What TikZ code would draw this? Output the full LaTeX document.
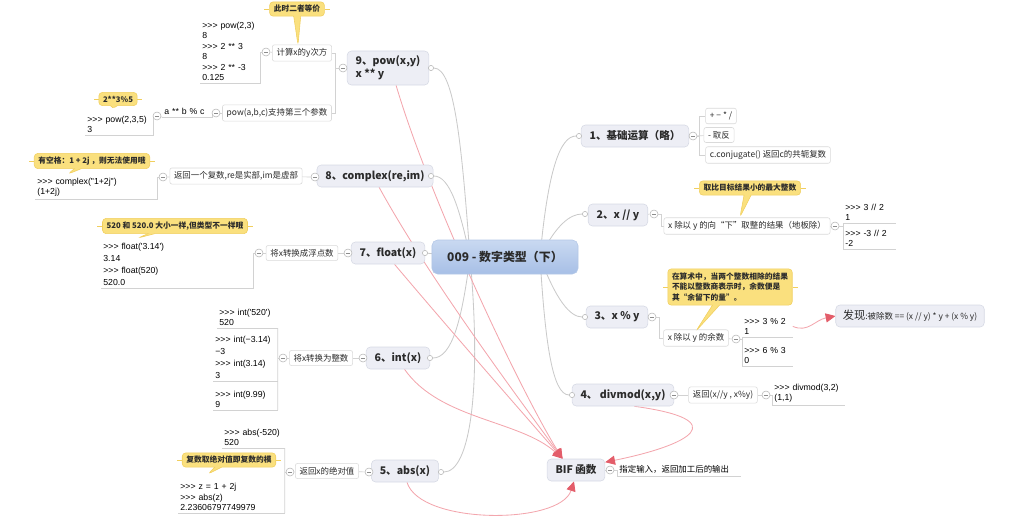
\documentclass[tikz,border=0pt]{standalone}
\usepackage{fontspec}
\setmainfont{Noto Sans CJK SC}[Ligatures=TeXOff]
\newfontfamily\codefont{Liberation Sans}[Ligatures=TeXOff]
\usetikzlibrary{arrows.meta,backgrounds,shapes.callouts}
\definecolor{ink}{HTML}{2B2B2B}
\definecolor{rootlight}{HTML}{C9D9F1}
\definecolor{rootdark}{HTML}{A7BFE6}
\definecolor{rootedge}{HTML}{B3C7E6}
\definecolor{topicfill}{HTML}{EDEEF5}
\definecolor{topicedge}{HTML}{D6D9E4}
\definecolor{subedge}{HTML}{DADADA}
\definecolor{notefill}{HTML}{FAE07E}
\definecolor{noteedge}{HTML}{F1CF5E}
\definecolor{foldedge}{HTML}{B8B8B8}
\definecolor{branchline}{HTML}{CACACA}
\definecolor{linkline}{HTML}{D2D2D2}
\definecolor{relline}{HTML}{F3A6AD}
\definecolor{relhead}{HTML}{E35D6A}

\begin{document}
\begin{tikzpicture}[x=0.025cm, y=-0.025cm,
  root/.style={rounded corners=4pt, top color=rootlight, bottom color=rootdark, draw=rootedge, text=ink,
    font=\fontsize{8.5}{10}\selectfont\bfseries, minimum width=3.65cm, minimum height=0.85cm},
  topic/.style={rounded corners=3pt, fill=topicfill, draw=topicedge, text=ink,
    font=\fontsize{7.5}{9}\selectfont\bfseries, inner xsep=6pt, minimum height=0.55cm},
  sub/.style={rounded corners=1.5pt, fill=white, draw=subedge, text=ink,
    font=\fontsize{6}{7}\selectfont, inner xsep=3pt, inner ysep=2.6pt},
  code/.style={anchor=south west, align=left, text=black, font=\codefont\fontsize{6.2}{7.4}\selectfont,
    inner xsep=1.5pt, inner ysep=1.5pt},
  loose/.style={font=\codefont\fontsize{6.2}{8.6}\selectfont},
  note/.style={rectangle callout, rounded corners=2.5pt, fill=notefill, draw=noteedge, text=ink,
    font=\fontsize{5.5}{7.8}\selectfont\bfseries, inner xsep=3pt, inner ysep=2.4pt, callout pointer width=5pt},
  fold/.style={circle, draw=foldedge, fill=white, inner sep=0pt, minimum size=0.2cm,
    path picture={\draw[black!45] ([xshift=-1.5pt]path picture bounding box.center) -- ([xshift=1.5pt]path picture bounding box.center);}},
  joint/.style={circle, draw=foldedge, fill=white, inner sep=0pt, minimum size=0.13cm},
  branch/.style={draw=branchline, line width=0.6pt},
  link/.style={draw=linkline, line width=0.5pt},
  relation/.style={draw=relline, line width=0.6pt, -{Triangle[length=7pt,width=6.5pt,color=relhead]}}]
  \useasboundingbox (0,0) rectangle (1024,521);

  \node[root] (root) at (505,257) {009 - 数字类型（下）};

  \node[topic] (t1) at (635,136) {1、基础运算（略）};
  \node[topic] (t2) at (618,215) {2、x // y};
  \node[topic] (t3) at (617,317) {3、x \% y};
  \node[topic] (t4) at (623,395) {4、 divmod(x,y)};
  \node[topic] (t5) at (405,471) {5、abs(x)};
  \node[topic] (t6) at (398,358) {6、int(x)};
  \node[topic] (t7) at (388,253) {7、float(x)};
  \node[topic] (t8) at (375,176) {8、complex(re,im)};
  \node[topic, align=left, minimum width=2cm, minimum height=0.85cm] (t9) at (388,68) {9、pow(x,y)\\x ** y};
  \node[topic] (bif) at (576,470) {BIF 函数};
  \node[topic, font=\fontsize{6}{8}\selectfont, inner xsep=5pt] (found) at (910,316)
    {{\fontsize{8}{9}\selectfont 发现}:被除数 == (x // y) * y + (x \% y)};

  \foreach \n/\x/\y in {j1/579/136, j2/585/214, j3/585/317, j4/572/395, j5/441/472,
                        j6/430/358, j7/425/253, j8/431/176, j9/431/68}
    \node[joint] (\n) at (\x,\y) {};
  \foreach \n/\x/\y in {f1/693/136, f2/654/214, f2b/835/226, f3/652/317, f3b/736/339,
                        f4/674/395, f4b/766/395, f5/369/472, f5b/290/472, f6/363/358,
                        f6b/283/358, f7/348/253, f7b/259/253, f8/315/177, f8b/163/177,
                        f9/343/68, f9a/266/52, f9b/216/113, f9c/157/116, fb/610/470}
    \node[fold] (\n) at (\x,\y) {};

  \node[sub] (s1a) at (721,116) {+ − * /};
  \node[sub] (s1b) at (719,135) {- 取反};
  \node[sub] (s1c) at (768,155) {c.conjugate() 返回c的共轭复数};
  \node[sub] (s2) at (747,226) {x 除以 y 的向“下”取整的结果（地板除）};
  \node[sub] (s3) at (696,338) {x 除以 y 的余数};
  \node[sub] (s4) at (723,395) {返回(x//y , x\%y)};
  \node[sub] (s5) at (327,471) {返回x的绝对值};
  \node[sub] (s6) at (321,358) {将x转换为整数};
  \node[sub] (s7) at (302,253) {将x转换成浮点数};
  \node[sub] (s8) at (236,176) {返回一个复数,re是实部,im是虚部};
  \node[sub] (s9a) at (302,53) {计算x的y次方};
  \node[sub] (s9b) at (277,113) {pow(a,b,c)支持第三个参数};

  \node[code, text width=1.2cm] (c2a) at (843,223) {>>> 3 // 2\\1};
  \node[code, text width=1.2cm] (c2b) at (843,249) {>>> -3 // 2\\-2};
  \node[code, text width=1.15cm] (c3a) at (742,337) {>>> 3 \% 2\\1};
  \node[code, text width=1.15cm] (c3b) at (742,366) {>>> 6 \% 3\\0};
  \node[code, text width=1.7cm] (c4) at (772,405) {>>> divmod(3,2)\\(1,1)};
  \node[code, text width=1.45cm] (c5a) at (222,448) {>>> abs(-520)\\520};
  \node[code, text width=2.55cm] (c5b) at (178,513) {>>> z = 1 + 2j\\>>> abs(z)\\2.23606797749979};
  \node[code, text width=1.4cm] (c6a) at (217,328) {>>> int('520')\\520};
  \node[code, loose, text width=1.5cm] (c6b) at (213,381) {>>> int(−3.14)\\−3\\>>> int(3.14)\\3};
  \node[code, text width=1.5cm] (c6c) at (213,410) {>>> int(9.99)\\9};
  \node[code, loose, text width=3.7cm] (c7) at (101,288) {>>> float('3.14')\\3.14\\>>> float(520)\\520.0};
  \node[code, text width=2.95cm] (c8) at (35,199) {>>> complex("1+2j")\\(1+2j)};
  \node[code, text width=1.4cm] (c9a) at (200,83) {>>> pow(2,3)\\8\\>>> 2 ** 3\\8\\>>> 2 ** -3\\0.125};
  \node[code, text width=1.6cm] (c9b) at (85,135) {>>> pow(2,3,5)\\3};
  \node[code, font=\fontsize{6}{7}\selectfont, text width=2.975cm] (ub) at (617,476) {指定输入，返回加工后的输出};
  \node[code, text width=1.15cm] (u9) at (162,117) {a ** b \% c};

  \node[note, callout absolute pointer={(298,45)}] (n9) at (297,9) {此时二者等价};
  \node[note, callout absolute pointer={(112,109)}] (n9b) at (118,99) {2**3\%5};
  \node[note, callout absolute pointer={(68,174)}] (n8) at (92,161) {有空格：1 + 2j ，则无法使用哦};
  \node[note, callout absolute pointer={(138,238)}] (n7) at (175,226) {520 和 520.0 大小一样,但类型不一样哦};
  \node[note, callout absolute pointer={(208,474)}] (n5) at (229,460) {复数取绝对值即复数的模};
  \node[note, callout absolute pointer={(740,217)}] (n2) at (750,188) {取比目标结果小的最大整数};
  \node[note, align=left, callout absolute pointer={(696,331)}] (n3) at (730,287)
    {在算术中，当两个整数相除的结果\\不能以整数商表示时，余数便是\\其“余留下的量”。};

  \begin{scope}[on background layer]
    \foreach \n in {n9,n9b,n8,n7,n5,n2,n3} {
      \draw[noteedge] (\n.west) -- ++(-5,0);
      \draw[noteedge] (\n.east) -- ++(5,0);
    }

    \coordinate (hubL) at (470,257);
    \coordinate (hubR) at (540,257);
    \draw[branch] (hubL) .. controls (462,150) and (455,68) .. (j9);
    \draw[branch] (hubL) .. controls (460,210) and (450,176) .. (j8);
    \draw[branch] (hubL) -- (j7);
    \draw[branch] (hubL) .. controls (462,320) and (452,358) .. (j6);
    \draw[branch] (hubL) .. controls (482,390) and (470,472) .. (j5);
    \draw[branch] (hubR) .. controls (548,170) and (560,136) .. (j1);
    \draw[branch] (hubR) .. controls (556,225) and (570,214) .. (j2);
    \draw[branch] (hubR) .. controls (556,300) and (570,317) .. (j3);
    \draw[branch] (hubR) .. controls (545,340) and (552,395) .. (j4);

    \foreach \a/\b in {t1/f1, t2/f2, t3/f3, t4/f4, t5/f5, t6/f6, t7/f7, t8/f8, t9/f9, bif/fb,
                       s2/f2b, s3/f3b, s4/f4b, s5/f5b, s6/f6b, s7/f7b, s8/f8b,
                       f4/s4, f5/s5, f6/s6, f7/s7, f8/s8, f9a/s9a, f9b/s9b, f1/s1b}
      \draw[link] (\a) -- (\b);
    \draw[link] (f1.east) -- ++(2,0) |- (s1a.west);
    \draw[link] (f1.east) -- ++(2,0) |- (s1c.west);
    \draw[link] (f2.east) -- ++(3,0) |- (s2.west);
    \draw[link] (f3.east) -- ++(3,0) |- (s3.west);
    \draw[link] (f9.west) -- ++(-3,0) |- (s9a.east);
    \draw[link] (f9.west) -- ++(-3,0) |- (s9b.east);
    \draw[link] (f2b) -| (c2a.south west) -- (c2b.south west);
    \draw[link] (f3b) -| (c3a.south west) -- (c3b.south west);
    \draw[link] (f4b) -| (c4.south west);
    \draw[link] (fb) -| (ub.south west);
    \draw[link] (f5b) -- (f5b -| c5a.south east);
    \draw[link] (c5a.south east) -- (c5b.south east);
    \draw[link] (f6b) -- (f6b -| c6a.south east);
    \draw[link] (c6a.south east) -- (c6c.south east);
    \draw[link] (f7b) -| (c7.south east);
    \draw[link] (f8b) -| (c8.south east);
    \draw[link] (f9a) -| (c9a.south east);
    \draw[link] (f9b) -| (u9.south east);
    \draw[link] (f9c) -| (c9b.south east);
    \draw[link] (f9c) -- (u9.south west);
    \foreach \n in {c2a,c2b,c3a,c3b,c4,c5a,c5b,c6a,c6b,c6c,c7,c8,c9a,c9b,ub,u9}
      \draw[link] (\n.south west) -- (\n.south east);

    \draw[relation] (t9.-65) .. controls (430,200) and (520,390) .. (bif.140);
    \draw[relation] (t8.-70) .. controls (430,280) and (520,400) .. (bif.140);
    \draw[relation] (t7.-60) .. controls (450,330) and (520,410) .. (bif.140);
    \draw[relation] (t6.-60) .. controls (440,420) and (520,420) .. (bif.140);
    \draw[relation] (t5.-80) .. controls (420,525) and (560,525) .. (bif.-100);
    \draw[relation] (t4.-45) .. controls (735,420) and (690,445) .. (bif.15);
    \draw[relation] (c3a.east) .. controls (808,333) and (815,320) .. (found.west);
  \end{scope}
\end{tikzpicture}
\end{document}
